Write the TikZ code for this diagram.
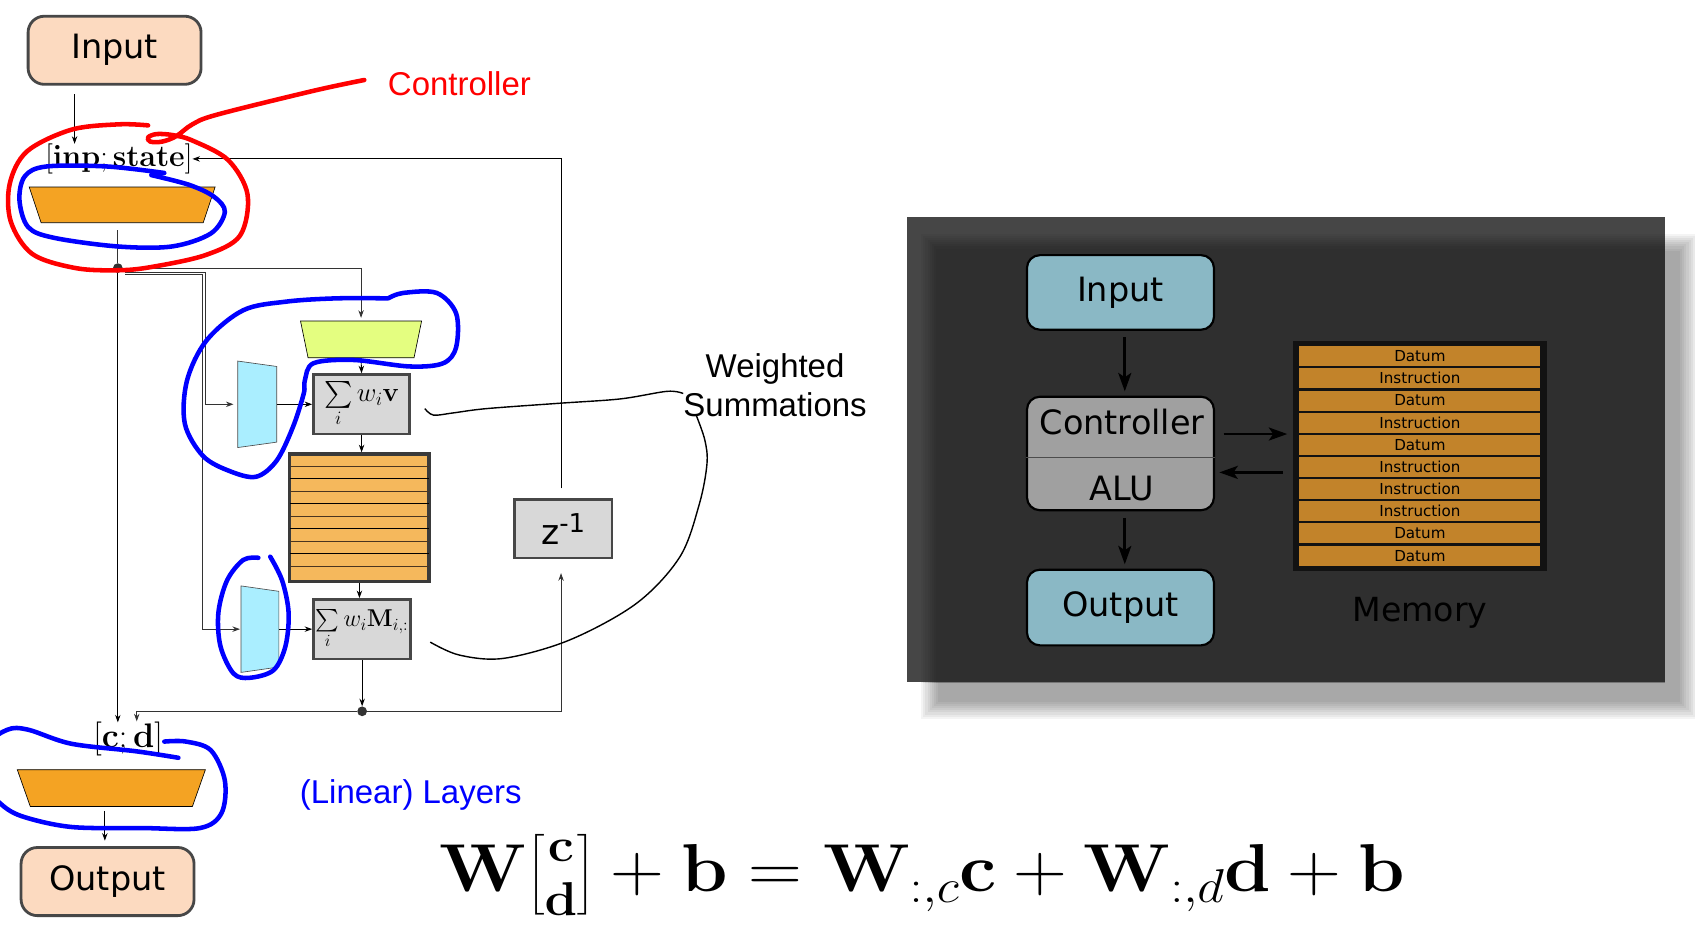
\RequirePackage{fix-cm}
\documentclass[tikz,border=0pt]{standalone}
\usepackage{amsmath}
\usepackage[no-math]{fontspec}
\newfontfamily\dejavu{DejaVu Sans}
\newfontfamily\arial{Liberation Sans}
\usetikzlibrary{arrows.meta,calc}
\definecolor{peach}{HTML}{FCDAC0}
\definecolor{boxedge}{HTML}{474747}
\definecolor{ctrlorange}{HTML}{F4A323}
\definecolor{limey}{HTML}{E4FE80}
\definecolor{skyc}{HTML}{AAEEFF}
\definecolor{sumgray}{HTML}{D8D8D8}
\definecolor{memfill}{HTML}{F5B85C}
\definecolor{memedge}{HTML}{3A3A3A}
\definecolor{wire}{HTML}{333333}
\definecolor{panelout}{HTML}{464646}
\definecolor{steel}{HTML}{8AB8C5}
\definecolor{alugray}{HTML}{A0A0A0}
\definecolor{ochre}{HTML}{C2832A}
\definecolor{brownline}{HTML}{4A3520}
\begin{document}
\begin{tikzpicture}[x=1pt,y=-1pt,
  iobox/.style={draw=boxedge,line width=2.6pt,rounded corners=15pt,fill=peach,minimum width=160pt,minimum height=63pt,inner sep=0pt,font=\dejavu\fontsize{31}{31}\selectfont},
  wirearrow/.style={draw=black,line width=0.8pt,-{Stealth[length=7pt,width=5pt]}},
  wireline/.style={draw=wire,line width=1pt},
  sumbox/.style={draw=boxedge,line width=2.4pt,fill=sumgray,inner sep=0pt},
  jdot/.style={circle,fill=wire,inner sep=0pt,minimum size=9pt},
  hole/.style={inner sep=0pt,outer sep=0pt},
  trapline/.style={draw=black,line width=0.6pt},
  annot/.style={line width=4.2pt,line cap=round,line join=round},
  rbox/.style={draw=black,line width=2pt,rounded corners=12pt,minimum width=173pt,inner sep=0pt,font=\dejavu\fontsize{31}{31}\selectfont},
  bigarrow/.style={draw=black,line width=2.6pt,-{Stealth[length=17pt,width=12pt,inset=4pt]}},
  memrow/.style={fill=ochre,minimum width=223pt,minimum height=18.5pt,inner sep=0pt,font=\dejavu\fontsize{14}{14}\selectfont},
  lbl/.style={font=\arial\fontsize{30.5}{36}\selectfont,align=center}
]
\useasboundingbox (0,0) rectangle (1568,860);
\fill[white] (0,0) rectangle (1568,860);

% ---------------- right panel background ----------------
\foreach \k in {0,...,8} {
  \fill[black,opacity=0.045] ({852+2*\k},{216+2*\k}) rectangle ({1570-2*\k},{665-2*\k});
}
\fill[panelout] (839,201) rectangle (1540,631);
\begin{scope}
  \clip (839,201) rectangle (1540,631);
  \foreach \k in {0,...,7} {
    \fill[black,opacity=0.04] ({852+2*\k},{216+2*\k}) rectangle ({1570-2*\k},{665-2*\k});
  }
\end{scope}

% ---------------- left diagram ----------------
\node[iobox] (inp) at (106,46.5) {Input};
\node[hole,font=\fontsize{28}{28}\selectfont] (instate) at (110,147) {$[\mathbf{inp};\mathbf{state}]$};
\coordinate (inA) at ($(inp.south)+(-37,8)$);
\draw[wirearrow] (inA) -- (inA |- instate.north);

\node[hole,minimum width=172pt,minimum height=33pt] (ctl) at (113,189.5) {};
\filldraw[fill=ctrlorange,trapline] (ctl.north west) -- (ctl.north east) -- ($(ctl.south east)+(-11,0)$) -- ($(ctl.south west)+(11,0)$) -- cycle;

\node[jdot] (d1) at (109,248) {};
\draw[wireline] ($(ctl.south)+(-4,7)$) -- (d1);

\node[hole,minimum width=112pt,minimum height=34pt] (lim) at (334,314) {};
\filldraw[fill=limey,trapline] (lim.north west) -- (lim.north east) -- ($(lim.south east)+(-7,0)$) -- ($(lim.south west)+(7,0)$) -- cycle;

\node[hole,minimum width=36pt,minimum height=80pt] (cy1) at (238,374) {};
\filldraw[fill=skyc,draw=black!70,line width=0.6pt] (cy1.north west) -- ($(cy1.north east)+(0,5)$) -- ($(cy1.south east)+(0,-5)$) -- (cy1.south west) -- cycle;
\node[hole,minimum width=35pt,minimum height=80pt] (cy2) at (240.5,582) {};
\filldraw[fill=skyc,draw=black!70,line width=0.6pt] (cy2.north west) -- ($(cy2.north east)+(0,5)$) -- ($(cy2.south east)+(0,-5)$) -- (cy2.south west) -- cycle;

\node[sumbox,minimum width=89pt,minimum height=55pt] (s1) at (334.5,374) {\fontsize{25}{25}\selectfont$\sum\limits_i w_i\mathbf{v}$};
\node[sumbox,minimum width=90pt,minimum height=55pt] (s2) at (335,582) {\fontsize{22.5}{22.5}\selectfont$\sum\limits_i w_i\mathbf{M}_{i,:}$};

\node[draw=memedge,line width=3.2pt,fill=memfill,minimum width=129pt,minimum height=118pt,inner sep=0pt] (mem) at (332.5,479) {};
\foreach \k in {0,2,4,6,8} {
  \draw[brownline,line width=1.3pt] ($(mem.north west)+(2,{13+11.55*\k})$) -- ($(mem.north east)+(-2,{13+11.55*\k})$);
}
\foreach \k in {1,3,5,7} {
  \draw[black,line width=1.1pt] ($(mem.north west)+(2,{13+11.55*\k})$) -- ($(mem.north east)+(-2,{13+11.55*\k})$);
}

\node[jdot] (d2) at (335,658) {};
\node[sumbox,minimum width=90pt,minimum height=54pt,font=\dejavu] (zi) at (521,489) {\fontsize{32}{32}\selectfont z\raisebox{11pt}{\fontsize{24}{24}\selectfont -1}};

\node[hole,font=\fontsize{31.5}{31.5}\selectfont] (cd) at (118.5,684) {$[\mathbf{c};\mathbf{d}]$};
\node[hole,minimum width=174pt,minimum height=34pt] (otr) at (103,729) {};
\filldraw[fill=ctrlorange,trapline] (otr.north west) -- (otr.north east) -- ($(otr.south east)+(-12,0)$) -- ($(otr.south west)+(12,0)$) -- cycle;
\node[iobox] (outp) at (99.5,815.5) {\raisebox{-2pt}{Output}};

% connectors
\draw[wirearrow,draw=wire,shorten >=3pt] (d1) -| (lim.north);
\draw[wirearrow] (lim.south) -- (s1.north);
\draw[wirearrow] (s1.south) -- (s1.south |- mem.north);
\draw[wirearrow] (mem.south) -- (mem.south |- s2.north);
\draw[wirearrow] (s2.south) -- (d2);
\draw[wirearrow,draw=wire,shorten >=4pt] ($(d1)+(7,4)$) -| ($(cy1.west)+(-30,0)$) -- (cy1.west);
\draw[wirearrow,draw=wire,shorten >=1pt] ($(d1)+(7,6)$) -| ($(cy2.west)+(-36,0)$) -- (cy2.west);
\draw[wirearrow] (cy1.east) -- (s1.west);
\draw[wirearrow] (cy2.east) -- (s2.west);
\draw[wirearrow] (d1) -- (d1 |- cd.north);
\draw[wirearrow,draw=wire] (d2) -| ($(cd.north)+(8,-1)$);
\draw[wirearrow,draw=wire] (d2) -| ($(zi.south)+(-2,13)$);
\draw[wirearrow] ($(zi.north)+(-2,-9)$) |- (instate.east);
\draw[wirearrow] ($(otr.south)+(-6,4)$) -- ($(outp.north)+(-2.5,-5)$);

% ---------------- annotations ----------------
\node[lbl,text=red] (lblctl) at (425,77) {Controller};
\node[lbl] (lblws) at (717,356) {Weighted\\Summations};
\node[lbl,text=blue] (lbllin) at (380,735) {(Linear) Layers};

\draw[annot,red] plot[smooth,tension=0.55] coordinates {(337,74) (290,84) (201,106) (178,115) (163,126) (150,131) (139,131) (137,127) (145,124) (160,125) (178,130) (211,148) (229,180) (222,218) (190,236) (140,247) (109,250) (70,248) (30,235) (10,205) (9,170) (25,140) (66,120) (110,115) (137,116)};

\draw[annot,blue] plot[smooth,tension=0.55] coordinates {(152,160) (99,154) (43,154) (23,163) (18,185) (26,210) (50,220) (109,228) (159,228) (195,216) (208,196) (198,182) (175,171) (140,162)};

\draw[annot,blue] plot[smooth,tension=0.55] coordinates {(359,276) (373,271) (404,271) (422,290) (422,321) (410,336) (379,339) (327,333) (290,336) (282,352) (281,364) (271,395) (256,426) (237,441) (213,436) (188,422) (171,392) (173,352) (191,315) (225,287) (265,279) (311,276) (359,276)};

\draw[annot,blue] plot[smooth,tension=0.55] coordinates {(239,516) (225,518) (210,537) (202,567) (204,598) (216,623) (231,627) (253,620) (264,598) (267,567) (261,537) (250,515)};

\draw[annot,blue] plot[smooth,tension=0.55] coordinates {(165,701) (126,695) (66,688) (26,675) (7,675) (-10,690) (-8,730) (0,743) (20,755) (66,765) (132,766) (185,766) (205,752) (208,722) (195,694) (172,686) (152,686)};

\draw[black,line width=1.3pt] plot[smooth,tension=0.55] coordinates {(393,378) (401,384) (419,382) (450,378) (518,373) (574,369) (617,362) (632,364)};
\draw[black,line width=1.3pt] plot[smooth,tension=0.55] coordinates {(644,384) (652,407) (654,429) (647,466) (629,515) (589,558) (527,592) (466,609) (425,606) (398,594)};

% formula
\node[anchor=base,inner sep=0pt] (eq) at (853,825) {\fontsize{62.7}{70}\selectfont\resizebox{893pt}{\height}{$\displaystyle \mathbf{W}\genfrac{[}{]}{0pt}{1}{\mathbf{c}}{\mathbf{d}}+\mathbf{b}=\mathbf{W}_{:,c}\mathbf{c}+\mathbf{W}_{:,d}\mathbf{d}+\mathbf{b}$}};

% ---------------- right panel content ----------------
\node[rbox,fill=steel,minimum height=69pt] (inR) at (1036.5,270.5) {\raisebox{5pt}{Input}};
\node[rbox,fill=alugray,minimum height=105pt] (ctR) at (1036.5,419.5) {};
\draw[black!70,line width=1.2pt] ($(ctR.west)+(0,3.5)$) -- ($(ctR.east)+(0,3.5)$);
\node[hole,font=\dejavu\fontsize{31}{31}\selectfont] (ctT) at (1038,390) {Controller};
\node[hole,font=\dejavu\fontsize{31}{31}\selectfont] (aluT) at (1038,452) {ALU};
\node[rbox,fill=steel,minimum height=70pt] (outR) at (1036.5,562) {Output};

\node[fill=black!93,minimum width=235pt,minimum height=213pt,inner sep=0pt] (memR) at (1313.5,421.5) {};
\foreach \t [count=\i from 0] in {Datum,Instruction,Datum,Instruction,Datum,Instruction,Instruction,Instruction,Datum,Datum} {
  \node[memrow] (mr\i) at (1313.5,{329.5+20.5*\i}) {\t};
}
\node[hole,font=\dejavu\fontsize{30.7}{31}\selectfont] (memlbl) at (1313.5,567) {Memory};

\draw[bigarrow] ($(inR.south)+(4,6)$) -- ($(ctR.north)+(4,-4)$);
\draw[bigarrow] ($(ctR.east)+(8,-18)$) -- ($(memR.west)+(-5,-20)$);
\draw[bigarrow] ($(memR.west)+(-9,15.5)$) -- ($(ctR.east)+(4,17.5)$);
\draw[bigarrow] ($(ctR.south)+(4,6)$) -- ($(outR.north)+(4,-4)$);
\end{tikzpicture}
\end{document}
